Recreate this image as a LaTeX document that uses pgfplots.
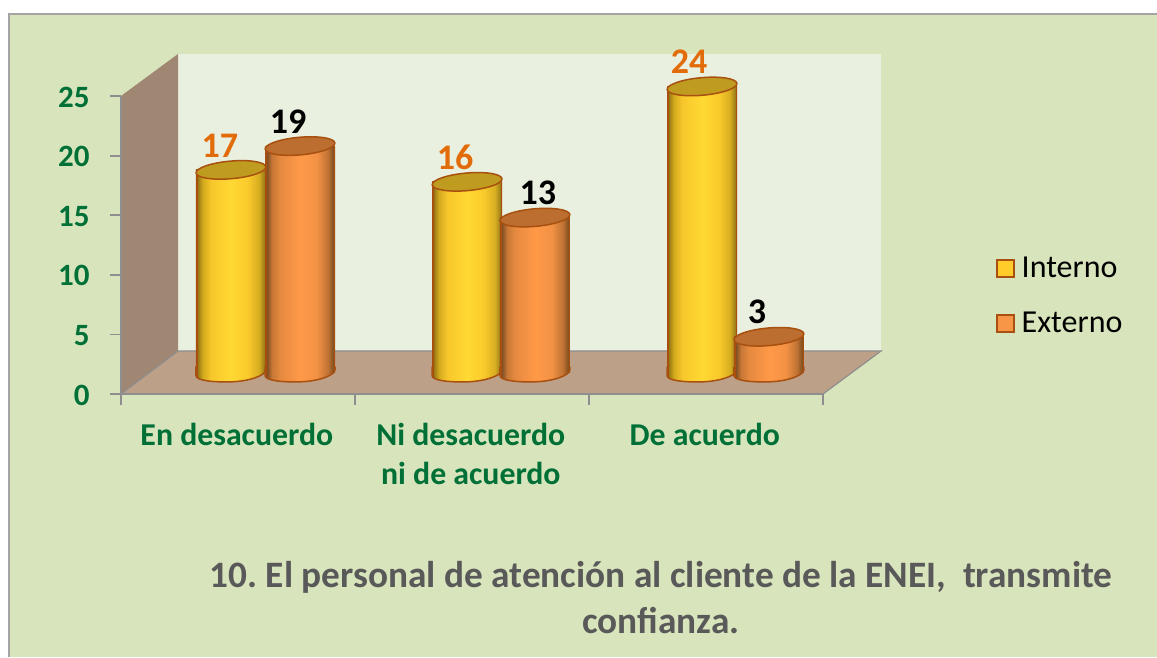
\documentclass[border=0pt]{standalone}
\usepackage{fontspec}
\setmainfont{Carlito}
\usepackage{pgfplots}
\usepackage{pgfplotstable}
\pgfplotsset{compat=1.18}
\definecolor{bgc}{RGB}{216,228,188}
\definecolor{wallc}{RGB}{233,240,223}
\definecolor{leftc}{RGB}{160,135,116}
\definecolor{floorc}{RGB}{189,160,136}
\definecolor{edgec}{RGB}{142,142,142}
\definecolor{greenlab}{RGB}{0,112,55}
\definecolor{outl}{RGB}{168,80,15}
\definecolor{topY}{RGB}{191,156,32}
\definecolor{topO}{RGB}{188,110,48}
\definecolor{labO}{RGB}{227,108,10}
\definecolor{titc}{RGB}{89,89,89}
\definecolor{swY}{RGB}{255,204,41}
\definecolor{swO}{RGB}{247,150,70}
\pgfdeclarehorizontalshading{cylY}{100bp}{
 rgb(0bp)=(0.66,0.31,0.06); rgb(25.8bp)=(0.66,0.31,0.06); rgb(26.4bp)=(0.60,0.48,0.08);
 rgb(30bp)=(0.83,0.67,0.12); rgb(36bp)=(0.97,0.78,0.17); rgb(50bp)=(1.0,0.85,0.20);
 rgb(62bp)=(0.98,0.79,0.17); rgb(70bp)=(0.84,0.68,0.13); rgb(73.6bp)=(0.62,0.50,0.10);
 rgb(74.2bp)=(0.66,0.31,0.06); rgb(100bp)=(0.66,0.31,0.06)}
\pgfdeclarehorizontalshading{cylO}{100bp}{
 rgb(0bp)=(0.66,0.31,0.06); rgb(25.8bp)=(0.66,0.31,0.06); rgb(26.4bp)=(0.50,0.31,0.14);
 rgb(30bp)=(0.78,0.47,0.21); rgb(36bp)=(0.90,0.54,0.25); rgb(50bp)=(1.0,0.60,0.28);
 rgb(62bp)=(0.95,0.57,0.27); rgb(70bp)=(0.75,0.45,0.20); rgb(73.6bp)=(0.52,0.32,0.13);
 rgb(74.2bp)=(0.66,0.31,0.06); rgb(100bp)=(0.66,0.31,0.06)}
\newcommand{\cylarc}{%
  \pgfpathlineto{\pgfqpoint{-35pt}{-3pt}}%
  \pgfpathcurveto{\pgfqpoint{-35pt}{-8pt}}{\pgfqpoint{-18pt}{-9.8pt}}{\pgfqpoint{0pt}{-9.3pt}}%
  \pgfpathcurveto{\pgfqpoint{18pt}{-8.8pt}}{\pgfqpoint{35pt}{-3pt}}{\pgfqpoint{35pt}{3pt}}%
  \pgfpathlineto{\pgfqpoint{35pt}{6pt}}}
\newcommand{\cylbottom}[1]{%
  \pgfpathmoveto{\pgfqpoint{-35pt}{6pt}}\cylarc\pgfpathclose
  \pgfshadepath{#1}{0}\pgfusepath{discard}%
  \pgfpathmoveto{\pgfqpoint{-35pt}{6pt}}\cylarc\pgfusepath{stroke}}
\pgfdeclareplotmark{botY}{\cylbottom{cylY}}
\pgfdeclareplotmark{botO}{\cylbottom{cylO}}
\pgfdeclareplotmark{topell}{\pgftransformrotate{5}\pgfpathellipse{\pgfpointorigin}{\pgfqpoint{35pt}{0pt}}{\pgfqpoint{0pt}{8.8pt}}\pgfusepath{fill,stroke}}
\pgfplotstableread{
x y dx
0.470 17 -11
1.479 16 -12
2.483 24 -13
}\interno
\pgfplotstableread{
x y dx
0.765 19 -12
1.769 13 3
2.769 3 -12
}\externo
\pgfplotstableread{
x y
0.470 0
1.479 0
2.483 0
}\basei
\pgfplotstableread{
x y
0.765 0
1.769 0
2.769 0
}\basee
\pgfplotsset{cylbar/.style={ybar,bar width=70pt,bar shift=0pt,draw=none,shading=#1}}
\begin{document}
\begin{tikzpicture}
\frenchspacing
\path[use as bounding box] (0,0) rectangle (1157pt,657pt);
\fill[white] (0,0) rectangle (1157pt,657pt);
\fill[bgc] (9pt,0) rectangle (1157pt,643pt);
\draw[color=edgec!80!white,line width=2pt] (9pt,0) -- (9pt,643pt) -- (1157pt,643pt);
% walls
\fill[wallc] (178pt,306pt) rectangle (881pt,603pt);
\fill[leftc] (121pt,561pt) -- (178pt,603pt) -- (178pt,306pt) -- (121pt,263pt) -- cycle;
\fill[floorc] (121pt,263pt) -- (178pt,306pt) -- (881pt,306pt) -- (823pt,263pt) -- cycle;
\draw[edgec,line width=1.2pt] (121pt,263pt) -- (178pt,306pt);
\draw[edgec,line width=1.2pt] (823pt,263pt) -- (881pt,306pt) -- (178pt,306pt);
% frame axis
\begin{axis}[
  at={(121pt,263pt)},anchor=south west,scale only axis,
  width=702pt,height=298pt,
  xmin=0,xmax=3,ymin=0,ymax=25,
  axis x line*=bottom,axis y line*=left,
  axis line style={edgec,line width=1.8pt,-},
  major tick style={edgec,line width=1.8pt},
  tick align=outside,major tick length=11pt,
  xtick={0,1,2,3},xticklabels={},
  extra x ticks={0.495,1.495,2.495},
  extra x tick labels={En desacuerdo,{Ni desacuerdo\\ni de acuerdo},De acuerdo},
  extra x tick style={major tick length=0pt,
    tick label style={align=center,font=\fontsize{31.8}{39}\selectfont\bfseries,color=greenlab,
      anchor=north,yshift=-26pt}},
  ytick={0,5,10,15,20,25},
  /pgf/number format/assume math mode=true,
  y tick label style={font=\fontsize{31}{36}\selectfont\bfseries,color=greenlab,xshift=-17pt,yshift=-1pt},
]
\end{axis}
% data axis
\begin{axis}[
  at={(121pt,263pt)},anchor=south west,scale only axis,
  width=702pt,height=298pt,
  xmin=0,xmax=3,ymin=-1.80,ymax=23.2,
  hide axis,clip=false,
  /pgf/number format/assume math mode=true,
  legend style={draw=none,fill=none,at={(1.246,0.466)},anchor=north west,
    font=\fontsize{32}{36}\selectfont,row sep=29pt,inner sep=0pt},
  legend cell align=left,
]
% Interno
\addplot[forget plot,only marks,mark=botY,mark options={draw=outl,line width=1.5pt}] table[x=x,y=y] {\basei};
\addplot[cylbar=cylY,
  legend image code/.code={\draw[shade=false,outl,fill=swY,line width=1.6pt] (0pt,-8.5pt) rectangle (17pt,8.5pt);\path (23pt,0pt);}] coordinates {(0.470,17)};
\addlegendentry{Interno}
\addplot[cylbar=cylY,forget plot] coordinates {(1.479,16)};
\addplot[cylbar=cylY,forget plot] coordinates {(2.483,24)};
\addplot[forget plot,only marks,mark=topell,mark options={draw=outl,fill=topY,line width=1.5pt},
  visualization depends on={\thisrow{dx} \as \dx},
  nodes near coords,
  every node near coord/.append style={anchor=center,xshift=\dx pt,yshift=24.5pt,
    font=\fontsize{36}{38}\selectfont\bfseries,color=labO}] table[x=x,y=y] {\interno};
% Externo
\addplot[forget plot,only marks,mark=botO,mark options={draw=outl,line width=1.5pt}] table[x=x,y=y] {\basee};
\addplot[cylbar=cylO,
  legend image code/.code={\draw[shade=false,outl,fill=swO,line width=1.6pt] (0pt,-8.5pt) rectangle (17pt,8.5pt);\path (23pt,0pt);}] coordinates {(0.765,19)};
\addlegendentry{Externo}
\addplot[cylbar=cylO,forget plot] coordinates {(1.769,13)};
\addplot[cylbar=cylO,forget plot] coordinates {(2.769,3)};
\addplot[forget plot,only marks,mark=topell,mark options={draw=outl,fill=topO,line width=1.5pt},
  visualization depends on={\thisrow{dx} \as \dx},
  nodes near coords,
  every node near coord/.append style={anchor=center,xshift=\dx pt,yshift=24.5pt,
    font=\fontsize{36}{38}\selectfont\bfseries,color=black}] table[x=x,y=y] {\externo};
\end{axis}
\node[align=center,color=titc,font=\fontsize{37.3}{46}\selectfont\bfseries] at (661pt,59pt)
  {10. El personal de atención al cliente de la ENEI,\ \ transmite\\confianza.};
\end{tikzpicture}
\end{document}
